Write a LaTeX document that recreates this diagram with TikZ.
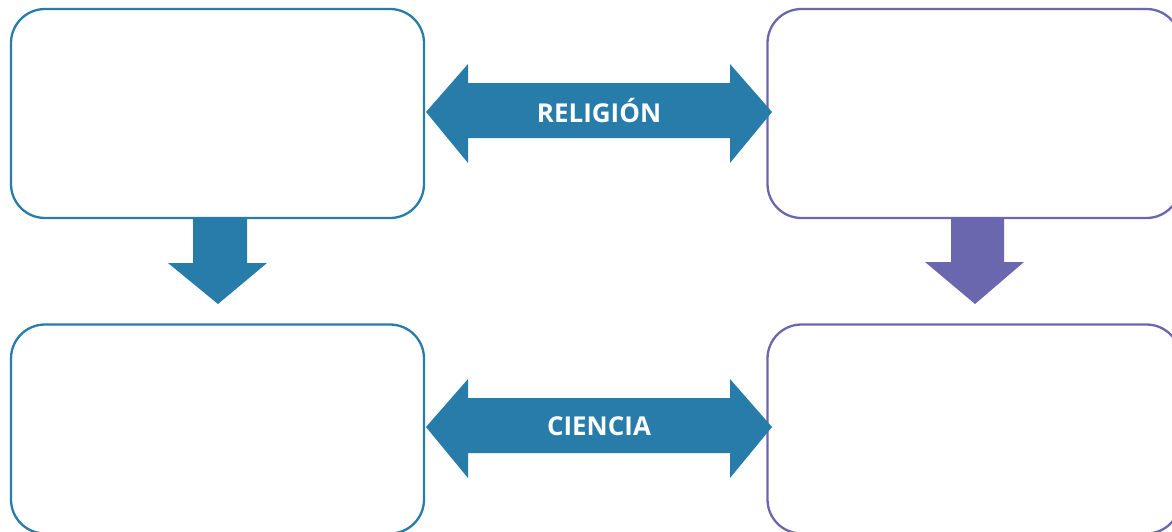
\documentclass[tikz,border=0pt]{standalone}
\usepackage{fontspec}
\setmainfont{Open Sans}
\definecolor{cblue}{HTML}{277CAA}
\definecolor{cpurp}{HTML}{6B67AE}
\begin{document}
\begin{tikzpicture}[x=1pt,y=-1pt,
  cardbox/.style={line width=2.3pt,rounded corners=34pt,fill=white,inner sep=0pt,
    minimum width=413pt,minimum height=209pt},
  boxb/.style={cardbox,draw=cblue},
  boxp/.style={cardbox,draw=cpurp},
  arrlabel/.style={text=white,font=\bfseries\fontsize{26}{30}\selectfont,inner sep=0pt}]
\useasboundingbox (0,0) rectangle (1172,531);
\clip (0,0) rectangle (1172,531);
% boxes
\node[boxb] (tl) at (217.5,113.5) {};
\node[boxp] (tr) at (974,113.5) {};
\node[boxb] (bl) at (217.5,429) {};
\node[boxp] (br) at (974,429) {};
% down arrows
\fill[cblue] (193,217) -- (247,217) -- (247,263) -- (267,263) -- (218,304) -- (168,263) -- (193,263) -- cycle;
\fill[cpurp] (951,217) -- (1004,217) -- (1004,262) -- (1024,262) -- (975,304) -- (925,262) -- (951,262) -- cycle;
% double arrows
\fill[cblue] (426,112) -- (468,64) -- (468,83) -- (730,83) -- (730,64) -- (772,112) -- (730,163) -- (730,138) -- (468,138) -- (468,163) -- cycle;
\node[arrlabel] (rel) at (599,111) {RELIGIÓN};
\fill[cblue] (426,427) -- (468,379) -- (468,398) -- (730,398) -- (730,379) -- (772,427) -- (730,478) -- (730,453) -- (468,453) -- (468,478) -- cycle;
\node[arrlabel] (cie) at (599,426) {CIENCIA};
\end{tikzpicture}
\end{document}
